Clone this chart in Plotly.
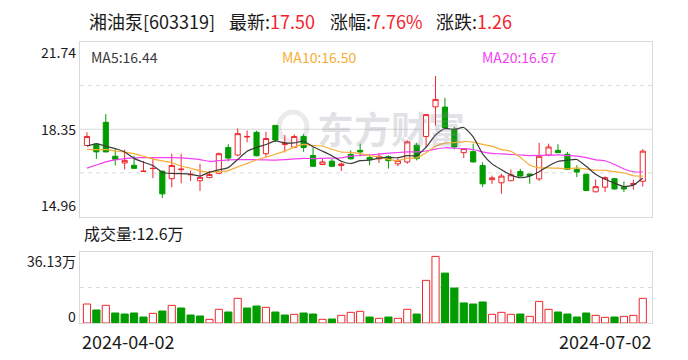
import plotly.graph_objects as go
import pandas as pd

# ---------------- data ----------------
dates = [
    "2024-04-02", "2024-04-03", "2024-04-08", "2024-04-09", "2024-04-10", "2024-04-11", "2024-04-12",
    "2024-04-15", "2024-04-16", "2024-04-17", "2024-04-18", "2024-04-19", "2024-04-22", "2024-04-23",
    "2024-04-24", "2024-04-25", "2024-04-26", "2024-04-29", "2024-04-30",
    "2024-05-06", "2024-05-07", "2024-05-08", "2024-05-09", "2024-05-10", "2024-05-13", "2024-05-14",
    "2024-05-15", "2024-05-16", "2024-05-17", "2024-05-20", "2024-05-21", "2024-05-22", "2024-05-23",
    "2024-05-24", "2024-05-27", "2024-05-28", "2024-05-29", "2024-05-30", "2024-05-31",
    "2024-06-03", "2024-06-04", "2024-06-05", "2024-06-06", "2024-06-07", "2024-06-11", "2024-06-12",
    "2024-06-13", "2024-06-14", "2024-06-17", "2024-06-18", "2024-06-19", "2024-06-20", "2024-06-21",
    "2024-06-24", "2024-06-25", "2024-06-26", "2024-06-27", "2024-06-28",
    "2024-07-01", "2024-07-02",
]

opens = [17.72, 17.77, 18.62, 17.30, 17.04, 16.95, 16.71, 16.82, 16.72, 16.43,
         16.78, 16.58, 16.35, 16.47, 16.64, 17.64, 17.35, 18.05, 18.23, 17.40,
         18.50, 17.76, 17.65, 18.07, 17.33, 16.98, 17.11, 16.94, 17.37, 17.53,
         17.25, 17.20, 17.28, 17.01, 17.08, 17.73, 18.07, 19.22, 19.21, 18.35,
         17.44, 17.48, 16.94, 16.39, 16.27, 16.35, 16.71, 16.61, 16.42, 17.35,
         17.53, 17.38, 16.79, 16.60, 15.92, 16.10, 16.43, 16.10, 16.20, 16.33]
highs = [18.23, 17.80, 18.94, 17.62, 17.56, 17.32, 17.12, 17.27, 16.75, 17.40,
         17.39, 16.75, 17.01, 16.73, 17.45, 17.77, 18.38, 18.30, 18.29, 18.25,
         18.51, 18.12, 18.15, 18.16, 17.64, 17.23, 17.20, 17.06, 17.53, 17.79,
         17.35, 17.43, 17.34, 17.23, 17.92, 17.82, 18.93, 20.42, 19.57, 18.44,
         17.60, 17.79, 17.07, 16.55, 16.62, 16.79, 16.81, 16.62, 17.82, 17.79,
         17.77, 17.47, 16.95, 16.62, 16.40, 16.52, 16.45, 16.32, 16.39, 17.58]
lows = [17.70, 17.20, 17.45, 16.94, 16.79, 16.81, 16.70, 16.45, 15.68, 16.09,
        16.25, 16.34, 15.95, 16.45, 16.60, 17.10, 17.30, 17.85, 17.30, 17.28,
        17.85, 17.45, 17.62, 17.47, 16.89, 16.96, 16.89, 16.73, 17.18, 17.30,
        16.95, 17.04, 16.82, 16.92, 17.01, 17.14, 17.62, 18.49, 18.38, 17.57,
        17.23, 17.06, 16.10, 16.23, 15.84, 16.33, 16.50, 16.23, 16.34, 17.30,
        17.44, 16.78, 16.49, 15.95, 15.90, 15.91, 16.00, 15.91, 16.00, 16.12]
closes = [18.07, 17.47, 17.47, 17.18, 17.14, 16.83, 16.72, 16.83, 15.84, 16.94,
          16.80, 16.60, 16.48, 16.59, 17.40, 17.23, 18.18, 18.07, 17.32, 17.99,
          17.93, 17.79, 18.07, 17.64, 16.91, 17.08, 16.91, 17.00, 17.20, 17.47,
          17.18, 17.30, 17.13, 17.14, 17.86, 17.21, 18.92, 19.51, 18.40, 17.66,
          17.60, 17.08, 16.23, 16.46, 16.53, 16.58, 16.53, 16.55, 17.30, 17.66,
          17.44, 16.79, 16.69, 15.97, 16.12, 16.47, 16.03, 16.03, 16.24, 17.50]
# volume in 万 (10k shares)
volumes = [9.67, 6.62, 8.99, 5.09, 4.58, 5.09, 3.05, 4.92, 6.11, 8.99,
           7.63, 4.07, 3.56, 1.87, 6.96, 5.60, 12.55, 7.63, 8.65, 7.97,
           5.60, 4.07, 4.41, 5.09, 4.58, 1.87, 2.04, 3.90, 5.43, 5.94,
           3.05, 2.37, 3.05, 2.37, 6.96, 4.58, 21.70, 33.90, 25.40, 17.80,
           10.20, 9.67, 10.70, 4.41, 5.43, 4.41, 4.58, 3.39, 11.00, 6.96,
           5.60, 4.58, 3.05, 5.09, 3.90, 2.88, 3.05, 3.39, 3.90, 12.55]

# moving-average values before a full window is available
ma5_head = [17.69, 17.79, 17.69, 17.60]
ma10_head = [17.57, 17.56, 17.56, 17.51, 17.46, 17.40, 17.30, 17.20, 17.12]
ma20_head = [16.84, 16.96, 17.08, 17.16, 17.21, 17.24, 17.25, 17.25, 17.25, 17.25,
             17.24, 17.21, 17.17, 17.10, 17.13, 17.16, 17.17, 17.17, 17.17]

price_ticks = ["21.74", "18.35", "14.96"]
vol_ticks = ["36.13万", "0"]
title_name = "湘油泵[603319]"
title_items = [("最新:", "17.50"), ("涨幅:", "7.76%"), ("涨跌:", "1.26")]
ma_labels = ["MA5:16.44", "MA10:16.50", "MA20:16.67"]
vol_label = "成交量:12.6万"
watermark = "东方财富"

# ---------------- styling ----------------
W, H = 688, 360
RED = "#f0262c"
GREEN = "#009c00"
MA_COLORS = ["#3a3a3a", "#f7ad33", "#f23ff2"]
GRID = "#d9d9d9"
FONT = "Noto Sans CJK SC, Noto Sans, sans-serif"
TXT = "#1a1a1a"

X0, X1 = 80, 652          # plot box, pixels
PY0, PY1 = 42, 216.5      # price box top / bottom
VY0, VY1 = 252, 323       # volume box top / bottom


def px(x):
    return x / W


def py(y):
    return 1 - y / H


n = len(closes)
xs = list(range(n))
cs = pd.Series(closes)


def ma(window, head):
    vals = cs.rolling(window).mean().tolist()
    return head + vals[len(head):]


ma5 = ma(5, ma5_head)
ma10 = ma(10, ma10_head)
ma20 = ma(20, ma20_head)

pmin, pmax = float(price_ticks[2]), float(price_ticks[0])
pmid = float(price_ticks[1])
vmax = float(vol_ticks[0].replace("万", ""))

xr = [-0.74, n - 1 + 0.98]

fig = go.Figure()

fig.add_trace(go.Candlestick(
    x=xs, open=opens, high=highs, low=lows, close=closes,
    increasing=dict(line=dict(color=RED, width=1), fillcolor="white"),
    decreasing=dict(line=dict(color=GREEN, width=1), fillcolor=GREEN),
    whiskerwidth=0, xaxis="x", yaxis="y", hoverinfo="skip", showlegend=False,
))

for vals, col in zip([ma20, ma10, ma5], [MA_COLORS[2], MA_COLORS[1], MA_COLORS[0]]):
    fig.add_trace(go.Scatter(
        x=xs, y=vals, mode="lines",
        line=dict(color=col, width=1.2, shape="spline", smoothing=0.5),
        xaxis="x", yaxis="y", hoverinfo="skip", showlegend=False,
    ))

# volume colouring: up vs previous close
up = []
for i in range(n):
    prev = closes[i - 1] if i > 0 else opens[0]
    up.append(closes[i] >= prev)
fig.add_trace(go.Bar(
    x=xs, y=volumes, width=0.76,
    marker=dict(color=["white" if u else GREEN for u in up],
                line=dict(color=[RED if u else GREEN for u in up], width=1)),
    xaxis="x2", yaxis="y2", hoverinfo="skip", showlegend=False,
))

axis_common = dict(showgrid=False, zeroline=False, showticklabels=False, ticks="",
                   showline=True, mirror=True, linecolor=GRID, linewidth=1, fixedrange=True)

fig.update_layout(
    width=W, height=H, margin=dict(l=0, r=0, t=0, b=0),
    paper_bgcolor="white", plot_bgcolor="white",
    font=dict(family=FONT, color=TXT),
    boxgap=0.22, bargap=0,
    xaxis=dict(domain=[px(X0), px(X1)], range=xr, anchor="y",
               rangeslider=dict(visible=False), **axis_common),
    yaxis=dict(domain=[py(PY1), py(PY0)], range=[pmin, pmax], anchor="x", **axis_common),
    xaxis2=dict(domain=[px(X0), px(X1)], range=xr, anchor="y2", matches="x", **axis_common),
    yaxis2=dict(domain=[py(VY1), py(VY0)], range=[0, vmax], anchor="x2", **axis_common),
    showlegend=False,
)

# grid lines
shapes = []
for v, dash in [(pmid, "solid"), ((pmid + pmax) / 2, "4px,4px"), ((pmid + pmin) / 2, "4px,4px")]:
    shapes.append(dict(type="line", xref="paper", yref="y", x0=px(X0), x1=px(X1), y0=v, y1=v,
                       line=dict(color=GRID, width=1, dash=dash), layer="below"))
shapes.append(dict(type="line", xref="paper", yref="y2", x0=px(X0), x1=px(X1), y0=vmax / 2, y1=vmax / 2,
                   line=dict(color=GRID, width=1, dash="4px,4px"), layer="below"))
# faint watermark logo ring
shapes.append(dict(type="circle", xref="paper", yref="paper",
                   x0=px(279), x1=px(307), y0=py(142), y1=py(112),
                   line=dict(color="rgba(150,150,165,0.20)", width=5), layer="below"))
fig.update_layout(shapes=shapes)

ann = []


def text(x, y, s, size, color=TXT, xanchor="left", yanchor="middle", weight="normal", **kw):
    ann.append(dict(x=px(x), y=py(y), xref="paper", yref="paper", text=s, showarrow=False,
                    xanchor=xanchor, yanchor=yanchor,
                    font=dict(size=size, color=color, family=FONT, weight=weight),
                    borderpad=0, **kw))


# watermark
text(391, 128, watermark, 37, color="rgba(140,140,155,0.26)", xanchor="center", weight="bold")

# title
text(88, 21, title_name, 18)
title_x = [228, 329, 435]
for (lab, val), x in zip(title_items, title_x):
    text(x, 21, lab + "<span style='color:%s'>%s</span>" % ("#f5222d", val), 18)

# MA labels
for lab, col, x in zip(ma_labels, MA_COLORS, [90, 281, 481]):
    text(x, 57, lab, 14, color=col)

# price axis labels
text(77, 52, price_ticks[0], 14, xanchor="right")
text(77, 129, price_ticks[1], 14, xanchor="right")
text(77, 205, price_ticks[2], 14, xanchor="right")

# volume
text(83, 233, vol_label, 16)
text(77, 261, vol_ticks[0], 14, xanchor="right")
text(77, 316, vol_ticks[1], 14, xanchor="right")

# dates
text(81, 341, dates[0], 18)
text(652, 341, dates[-1], 18, xanchor="right")

fig.update_layout(annotations=ann)
fig.write_html("out.html", config={"displayModeBar": False, "staticPlot": True})
